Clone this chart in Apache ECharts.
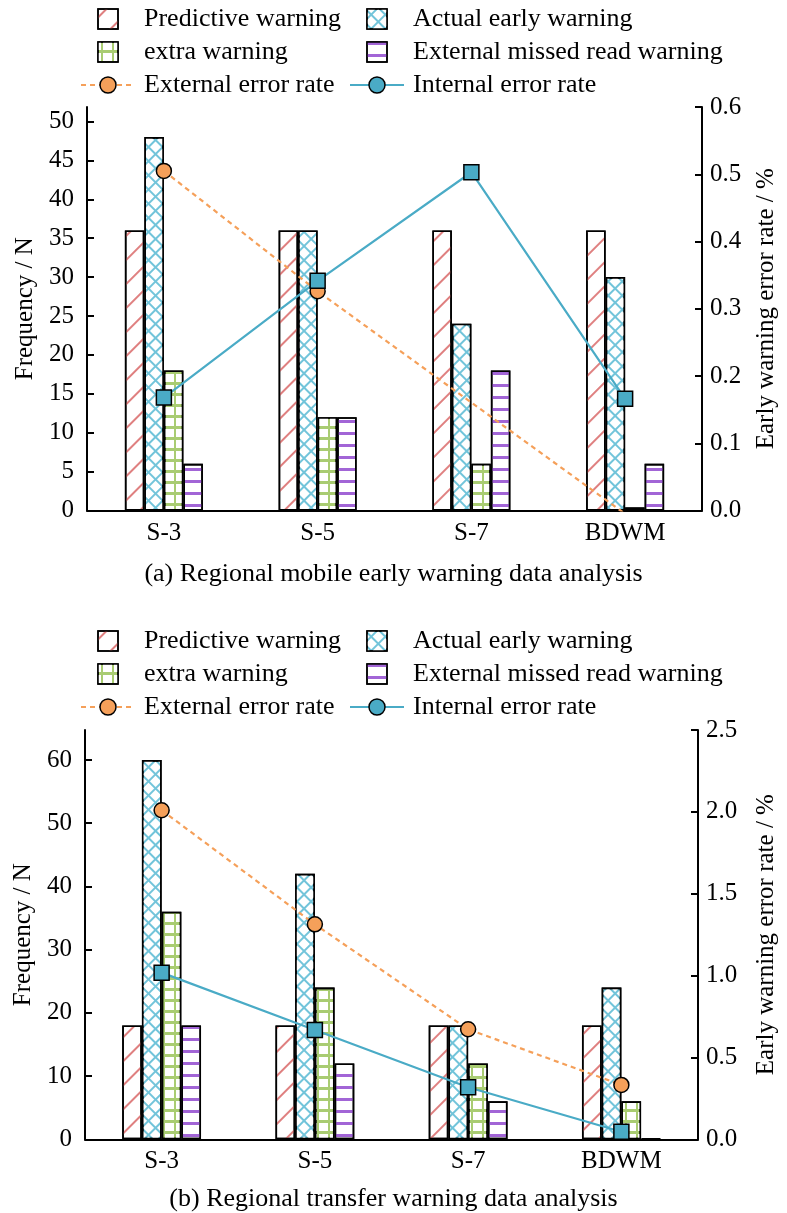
<!DOCTYPE html>
<html lang="en">
<head>
  <meta charset="utf-8">
  <script src="https://cdn.jsdelivr.net/npm/echarts@6/dist/echarts.min.js"></script>
  <style>body { margin: 0; background: #fff; }</style>
</head>
<body>
  <div id="mobileChart" style="width: 787px; height: 606px;"></div>
  <div id="transferChart" style="width: 787px; height: 607px;"></div>

  <script type="text/javascript">
    var categories = ['S-3', 'S-5', 'S-7', 'BDWM'];

    // (a) regional mobile early warning
    var mobilePredictive = [36, 36, 36, 36];
    var mobileActual = [48, 36, 24, 30];
    var mobileExtra = [18, 12, 6, 0.4];
    var mobileMissed = [6, 12, 18, 6];
    var mobileExternalRate = [0.505, 0.326, null, -0.005];
    var mobileInternalRate = [0.168, 0.3415, 0.503, 0.166];
    var mobileFreqTicks = [0, 5, 10, 15, 20, 25, 30, 35, 40, 45, 50];

    // (b) regional transfer warning
    var transferPredictive = [18, 18, 18, 18];
    var transferActual = [60, 42, 18, 24];
    var transferExtra = [36, 24, 12, 6];
    var transferMissed = [18, 12, 6, 0.15];
    var transferExternalRate = [2.01, 1.313, 0.672, 0.332];
    var transferInternalRate = [1.018, 0.668, 0.318, 0.046];
    var transferFreqTicks = [0, 10, 20, 30, 40, 50, 60];

    var FONT = "'Liberation Serif', 'DejaVu Serif', serif";
    var SQUARE = 'path://M0,0H10V10H0Z';

    var barStyles = {
        'Predictive warning': {
            color: '#ffffff',
            decal: {symbol: 'rect', symbolSize: 1, color: '#df8080', dashArrayX: [1, 0], dashArrayY: [2, 15], rotation: -Math.PI / 4}
        },
        'Actual early warning': {
            color: '#72c4da',
            decal: {symbol: 'rect', symbolSize: 1, color: '#ffffff', dashArrayX: [8, 1.5], dashArrayY: [8, 1.5], rotation: Math.PI / 4}
        },
        'extra warning': {
            color: '#a9cc72',
            decal: {symbol: 'rect', symbolSize: 1, color: '#ffffff', dashArrayX: [9, 2], dashArrayY: [8, 2.2], rotation: 0}
        },
        'External missed read warning': {
            color: '#ffffff',
            decal: {symbol: 'rect', symbolSize: 1, color: '#a265d6', dashArrayX: [1, 0], dashArrayY: [2.4, 8.4], rotation: 0}
        }
    };

    function barSeries(name, data, barWidth) {
        var st = barStyles[name];
        return {
            name: name,
            type: 'bar',
            data: data,
            barWidth: barWidth,
            barGap: '0%',
            itemStyle: {color: st.color, borderColor: '#000', borderWidth: 1.6, decal: st.decal}
        };
    }

    function createChart(el, d) {
        const chart = echarts.init(el);
        const legendText = {fontSize: 26, lineHeight: 25, fontFamily: FONT, color: '#000', padding: [0, 0, 0, 4]};
        const legendBase = {
            orient: 'vertical', itemWidth: 54, itemHeight: 20, itemGap: 7, padding: 0,
            selectedMode: false, textStyle: legendText,
            itemStyle: {borderColor: '#000', borderWidth: 1.5}
        };

        let option = {
            animation: false,
            title: {
                text: d.caption, left: 'center', top: d.captionTop,
                textStyle: {fontSize: 26, fontWeight: 'normal', fontFamily: FONT, color: '#000'}
            },
            legend: [
                Object.assign({left: 80, top: d.legendTop, data: [
                    {name: 'Predictive warning', icon: SQUARE},
                    {name: 'extra warning', icon: SQUARE},
                    {name: 'External error rate'}
                ]}, legendBase),
                Object.assign({left: 349, top: d.legendTop, data: [
                    {name: 'Actual early warning', icon: SQUARE},
                    {name: 'External missed read warning', icon: SQUARE},
                    {name: 'Internal error rate'}
                ]}, legendBase)
            ],
            grid: d.grid,
            xAxis: {
                type: 'category',
                data: categories,
                axisLine: {lineStyle: {color: '#000', width: 2}},
                axisTick: {show: false},
                axisLabel: {fontSize: 25, fontFamily: FONT, color: '#000', margin: 10}
            },
            yAxis: [
                {
                    type: 'value', min: 0, max: d.freqMax, interval: d.freqTicks[1],
                    name: 'Frequency / N', nameLocation: 'middle', nameGap: d.freqNameGap, nameRotate: 90,
                    nameTextStyle: {fontSize: 25, fontFamily: FONT, color: '#000'},
                    splitLine: {show: false},
                    axisLine: {show: true, lineStyle: {color: '#000', width: 2}},
                    axisTick: {show: true, inside: true, length: 7, customValues: d.freqTicks, lineStyle: {color: '#000', width: 2}},
                    axisLabel: {fontSize: 25, fontFamily: FONT, color: '#000', margin: 13, customValues: d.freqTicks}
                },
                {
                    type: 'value', min: 0, max: d.rateMax, interval: d.rateStep, position: 'right',
                    name: 'Early warning error rate / %', nameLocation: 'middle', nameGap: d.rateNameGap, nameRotate: 90,
                    nameTextStyle: {fontSize: 25, fontFamily: FONT, color: '#000'},
                    splitLine: {show: false},
                    axisLine: {show: true, lineStyle: {color: '#000', width: 2}},
                    axisTick: {show: true, inside: true, length: 7, lineStyle: {color: '#000', width: 2}},
                    axisLabel: {fontSize: 25, fontFamily: FONT, color: '#000', margin: 8,
                        formatter: function (v) { return v.toFixed(1); }}
                }
            ],
            series: [
                barSeries('Predictive warning', d.predictive, d.barWidth),
                barSeries('Actual early warning', d.actual, d.barWidth),
                barSeries('extra warning', d.extra, d.barWidth),
                barSeries('External missed read warning', d.missed, d.barWidth),
                {
                    name: 'External error rate',
                    type: 'line',
                    yAxisIndex: 1,
                    data: d.external,
                    connectNulls: true,
                    symbol: 'circle',
                    symbolSize: 15,
                    z: 5,
                    lineStyle: {color: '#f5a05a', width: 2.2, type: [5, 4]},
                    itemStyle: {color: '#f5a05a', borderColor: '#000', borderWidth: 1.5}
                },
                {
                    name: 'Internal error rate',
                    type: 'line',
                    yAxisIndex: 1,
                    data: d.internal.map(function (v) { return {value: v, symbol: 'rect'}; }),
                    symbol: 'circle',
                    symbolSize: 15,
                    z: 6,
                    lineStyle: {color: '#4aabc6', width: 2.2},
                    itemStyle: {color: '#4aabc6', borderColor: '#000', borderWidth: 1.5}
                }
            ]
        };

        chart.setOption(option);
    }

    createChart(document.getElementById('mobileChart'), {
        caption: '(a) Regional mobile early warning data analysis',
        captionTop: 556,
        legendTop: 6,
        grid: {left: 87, right: 74, top: 107, bottom: 95.5},
        freqMax: 51.86, freqTicks: mobileFreqTicks, freqNameGap: 42,
        rateMax: 0.6, rateStep: 0.1, rateNameGap: 52,
        barWidth: 19.5,
        predictive: mobilePredictive, actual: mobileActual, extra: mobileExtra, missed: mobileMissed,
        external: mobileExternalRate, internal: mobileInternalRate
    });

    createChart(document.getElementById('transferChart'), {
        caption: '(b) Regional transfer warning data analysis',
        captionTop: 575,
        legendTop: 22,
        grid: {left: 85, right: 70, top: 124, bottom: 73.7},
        freqMax: 64.75, freqTicks: transferFreqTicks, freqNameGap: 43,
        rateMax: 2.5, rateStep: 0.5, rateNameGap: 56,
        barWidth: 19.7,
        predictive: transferPredictive, actual: transferActual, extra: transferExtra, missed: transferMissed,
        external: transferExternalRate, internal: transferInternalRate
    });
  </script>
</body>
</html>
